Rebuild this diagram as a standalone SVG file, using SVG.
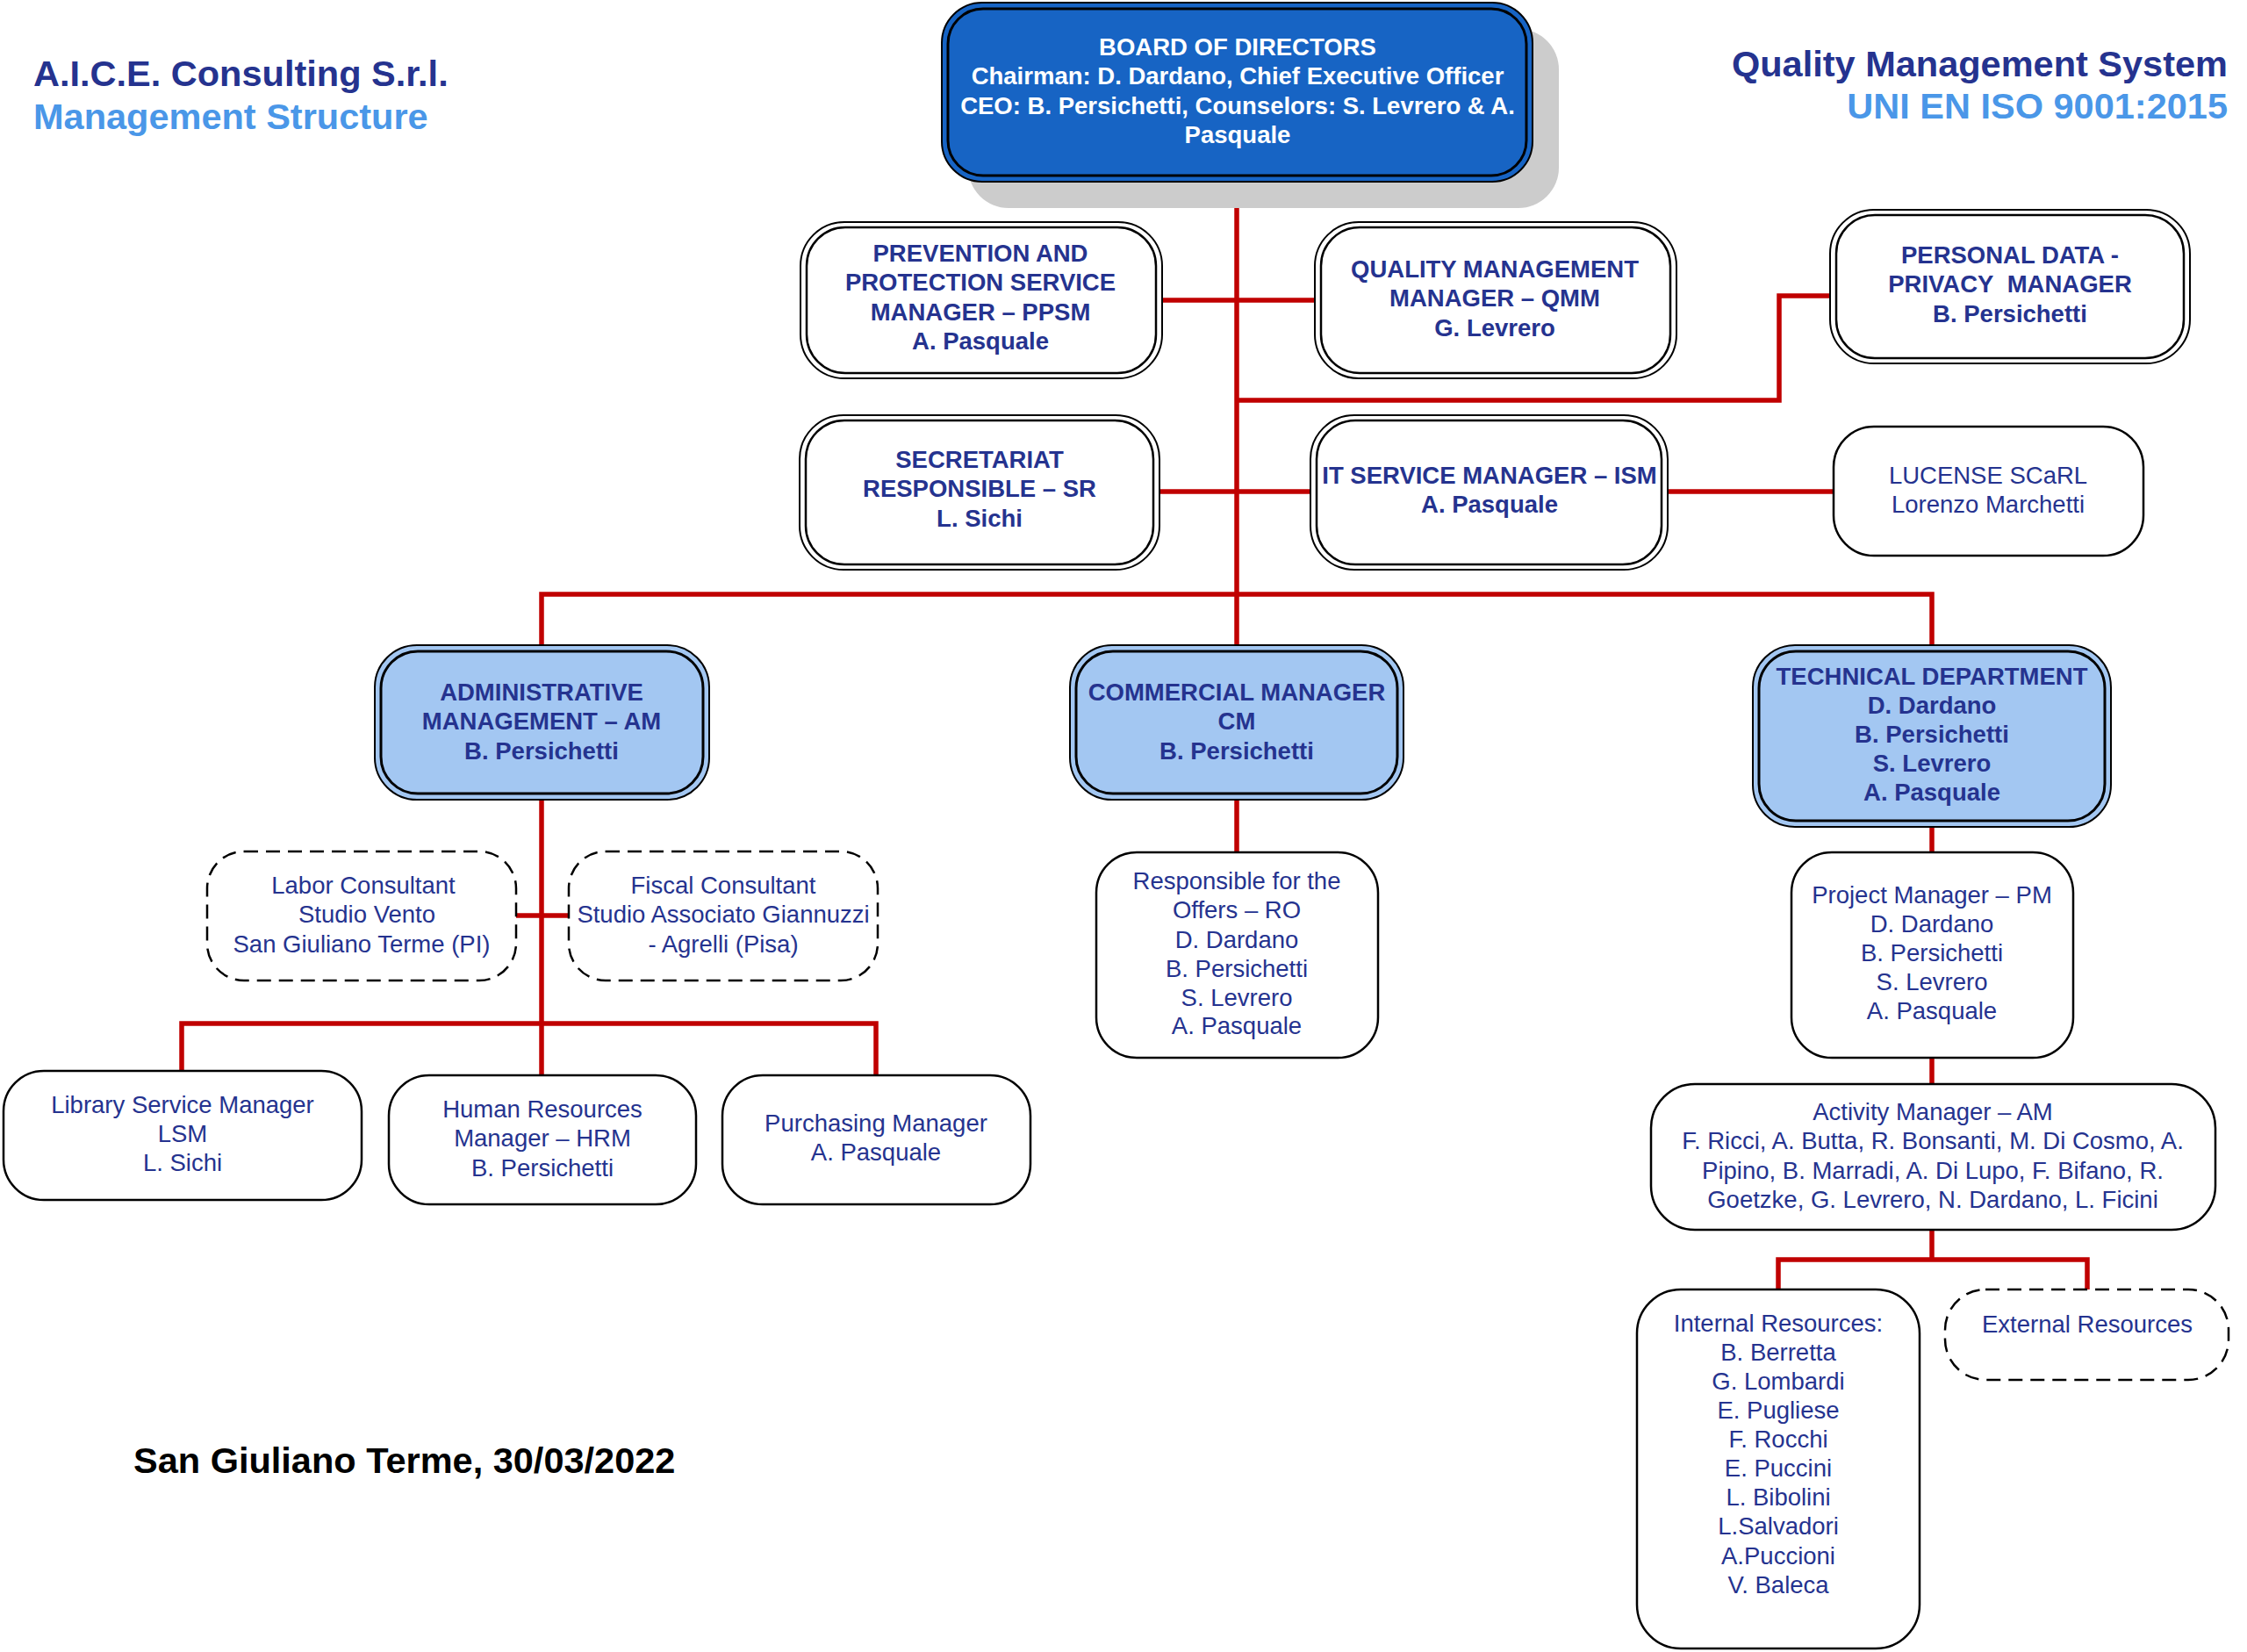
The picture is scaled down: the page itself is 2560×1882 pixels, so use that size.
<svg xmlns="http://www.w3.org/2000/svg" width="2560" height="1882" viewBox="0 0 2560 1882">
<style>
.t{font-family:"Liberation Sans",Arial,sans-serif;font-size:27.5px;fill:#25338F;text-anchor:middle}
.b{font-weight:bold}
.w{fill:#FFFFFF}
.ttl{font-family:"Liberation Sans",Arial,sans-serif;font-size:41.5px;font-weight:bold}
.navy{fill:#25338F}
.lb{fill:#4A97E8}
.o{fill:#FFFFFF;stroke:#000;stroke-width:2}
.i{fill:none;stroke:#000;stroke-width:2.5}
.s{fill:#FFFFFF;stroke:#000;stroke-width:2.5}
.d{fill:#FFFFFF;stroke:#000;stroke-width:2.5;stroke-dasharray:16 9}
.bo{fill:#A3C7F2;stroke:#000;stroke-width:2}
.bi{fill:#A3C7F2;stroke:#000;stroke-width:3}
.c{fill:none;stroke:#C00000;stroke-width:5.5}
</style>
<rect width="2560" height="1882" fill="#FFFFFF"/>
<g id="titles">
<text class="ttl navy" x="38" y="98">A.I.C.E. Consulting S.r.l.</text>
<text class="ttl lb" x="38" y="147">Management Structure</text>
<text class="ttl navy" x="2538" y="87" text-anchor="end">Quality Management System</text>
<text class="ttl lb" x="2538" y="135" text-anchor="end">UNI EN ISO 9001:2015</text>
<text class="ttl" x="152" y="1678" fill="#000">San Giuliano Terme, 30/03/2022</text>
</g>
<g id="connectors">
<line class="c" x1="1409" y1="207" x2="1409" y2="736"/>
<line class="c" x1="1324" y1="342" x2="1498" y2="342"/>
<path class="c" d="M1409 456 H2027 V337 H2085"/>
<line class="c" x1="1321" y1="560" x2="1493" y2="560"/>
<line class="c" x1="1900" y1="560" x2="2089" y2="560"/>
<path class="c" d="M617 736 V677 H2201 V736"/>
<line class="c" x1="617" y1="911" x2="617" y2="1226"/>
<line class="c" x1="588" y1="1043" x2="648" y2="1043"/>
<path class="c" d="M207 1220 V1166 H998 V1224"/>
<line class="c" x1="1409" y1="911" x2="1409" y2="971"/>
<line class="c" x1="2201" y1="942" x2="2201" y2="971"/>
<line class="c" x1="2201" y1="1205" x2="2201" y2="1235"/>
<path class="c" d="M2201 1401 V1435"/>
<path class="c" d="M2026 1469 V1435 H2378 V1469"/>
</g>
<g id="board">
<rect x="1103" y="33" width="673" height="204" rx="46" fill="#CCCCCC"/>
<rect x="1073" y="3" width="673" height="204" rx="46" fill="#1764C4" stroke="#000" stroke-width="2"/>
<rect x="1080" y="10" width="659" height="190" rx="40" fill="none" stroke="#000" stroke-width="3"/>
<text class="t b w" x="1410" y="63">BOARD OF DIRECTORS</text>
<text class="t b w" x="1410" y="96">Chairman: D. Dardano, Chief Executive Officer</text>
<text class="t b w" x="1410" y="130">CEO: B. Persichetti, Counselors: S. Levrero &amp; A.</text>
<text class="t b w" x="1410" y="163">Pasquale</text>
</g>
<g id="ppsm">
<rect class="o" x="912" y="253" width="412" height="178" rx="50"/>
<rect class="i" x="919" y="259" width="398" height="166" rx="44"/>
<text class="t b" x="1117" y="298">PREVENTION AND</text>
<text class="t b" x="1117" y="331">PROTECTION SERVICE</text>
<text class="t b" x="1117" y="365">MANAGER – PPSM</text>
<text class="t b" x="1117" y="398">A. Pasquale</text>
</g>
<g id="qmm">
<rect class="o" x="1498" y="253" width="412" height="178" rx="50"/>
<rect class="i" x="1505" y="259" width="398" height="166" rx="44"/>
<text class="t b" x="1703" y="316">QUALITY MANAGEMENT</text>
<text class="t b" x="1703" y="349">MANAGER – QMM</text>
<text class="t b" x="1703" y="383">G. Levrero</text>
</g>
<g id="privacy">
<rect class="o" x="2085" y="239" width="410" height="175" rx="50"/>
<rect class="i" x="2092" y="245" width="396" height="163" rx="44"/>
<text class="t b" x="2290" y="300">PERSONAL DATA -</text>
<text class="t b" x="2290" y="333">PRIVACY&#160; MANAGER</text>
<text class="t b" x="2290" y="367">B. Persichetti</text>
</g>
<g id="sr">
<rect class="o" x="911" y="473" width="410" height="176" rx="50"/>
<rect class="i" x="918" y="479" width="396" height="164" rx="44"/>
<text class="t b" x="1116" y="533">SECRETARIAT</text>
<text class="t b" x="1116" y="566">RESPONSIBLE – SR</text>
<text class="t b" x="1116" y="600">L. Sichi</text>
</g>
<g id="ism">
<rect class="o" x="1493" y="473" width="407" height="176" rx="50"/>
<rect class="i" x="1500" y="479" width="393" height="164" rx="44"/>
<text class="t b" x="1697" y="551">IT SERVICE MANAGER – ISM</text>
<text class="t b" x="1697" y="584">A. Pasquale</text>
</g>
<g id="lucense">
<rect class="s" x="2089" y="486" width="353" height="147" rx="46"/>
<text class="t" x="2265" y="551">LUCENSE SCaRL</text>
<text class="t" x="2265" y="584">Lorenzo Marchetti</text>
</g>
<g id="admin">
<rect class="bo" x="427" y="735" width="381" height="176" rx="48"/>
<rect class="bi" x="434" y="742" width="367" height="162" rx="42"/>
<text class="t b" x="617" y="798">ADMINISTRATIVE</text>
<text class="t b" x="617" y="831">MANAGEMENT – AM</text>
<text class="t b" x="617" y="865">B. Persichetti</text>
</g>
<g id="commercial">
<rect class="bo" x="1219" y="735" width="380" height="176" rx="48"/>
<rect class="bi" x="1226" y="742" width="366" height="162" rx="42"/>
<text class="t b" x="1409" y="798">COMMERCIAL MANAGER</text>
<text class="t b" x="1409" y="831">CM</text>
<text class="t b" x="1409" y="865">B. Persichetti</text>
</g>
<g id="technical">
<rect class="bo" x="1997" y="735" width="408" height="207" rx="48"/>
<rect class="bi" x="2004" y="742" width="394" height="193" rx="42"/>
<text class="t b" x="2201" y="780">TECHNICAL DEPARTMENT</text>
<text class="t b" x="2201" y="813">D. Dardano</text>
<text class="t b" x="2201" y="846">B. Persichetti</text>
<text class="t b" x="2201" y="879">S. Levrero</text>
<text class="t b" x="2201" y="912">A. Pasquale</text>
</g>
<g id="labor">
<rect class="d" x="236" y="970" width="352" height="147" rx="42"/>
<text class="t" x="414" y="1018">Labor Consultant</text>
<text class="t" x="418" y="1051">Studio Vento</text>
<text class="t" x="412" y="1085">San Giuliano Terme (PI)</text>
</g>
<g id="fiscal">
<rect class="d" x="648" y="970" width="352" height="147" rx="42"/>
<text class="t" x="824" y="1018">Fiscal Consultant</text>
<text class="t" x="824" y="1051">Studio Associato Giannuzzi</text>
<text class="t" x="824" y="1085">- Agrelli (Pisa)</text>
</g>
<g id="lsm">
<rect class="s" x="4" y="1220" width="408" height="147" rx="46"/>
<text class="t" x="208" y="1268">Library Service Manager</text>
<text class="t" x="208" y="1301">LSM</text>
<text class="t" x="208" y="1334">L. Sichi</text>
</g>
<g id="hrm">
<rect class="s" x="443" y="1225" width="350" height="147" rx="46"/>
<text class="t" x="618" y="1273">Human Resources</text>
<text class="t" x="618" y="1306">Manager – HRM</text>
<text class="t" x="618" y="1340">B. Persichetti</text>
</g>
<g id="purchasing">
<rect class="s" x="823" y="1225" width="351" height="147" rx="46"/>
<text class="t" x="998" y="1289">Purchasing Manager</text>
<text class="t" x="998" y="1322">A. Pasquale</text>
</g>
<g id="ro">
<rect class="s" x="1249" y="971" width="321" height="234" rx="46"/>
<text class="t" x="1409" y="1013">Responsible for the</text>
<text class="t" x="1409" y="1046">Offers – RO</text>
<text class="t" x="1409" y="1080">D. Dardano</text>
<text class="t" x="1409" y="1113">B. Persichetti</text>
<text class="t" x="1409" y="1146">S. Levrero</text>
<text class="t" x="1409" y="1178">A. Pasquale</text>
</g>
<g id="pm">
<rect class="s" x="2041" y="971" width="321" height="234" rx="46"/>
<text class="t" x="2201" y="1029">Project Manager – PM</text>
<text class="t" x="2201" y="1062">D. Dardano</text>
<text class="t" x="2201" y="1095">B. Persichetti</text>
<text class="t" x="2201" y="1128">S. Levrero</text>
<text class="t" x="2201" y="1161">A. Pasquale</text>
</g>
<g id="activity">
<rect class="s" x="1881" y="1235" width="643" height="166" rx="50"/>
<text class="t" x="2202" y="1276">Activity Manager – AM</text>
<text class="t" x="2202" y="1309">F. Ricci, A. Butta, R. Bonsanti, M. Di Cosmo, A.</text>
<text class="t" x="2202" y="1343">Pipino, B. Marradi, A. Di Lupo, F. Bifano, R.</text>
<text class="t" x="2202" y="1376">Goetzke, G. Levrero, N. Dardano, L. Ficini</text>
</g>
<g id="internal">
<rect class="s" x="1865" y="1469" width="322" height="409" rx="50"/>
<text class="t" x="2026" y="1517">Internal Resources:</text>
<text class="t" x="2026" y="1550">B. Berretta</text>
<text class="t" x="2026" y="1583">G. Lombardi</text>
<text class="t" x="2026" y="1616">E. Pugliese</text>
<text class="t" x="2026" y="1649">F. Rocchi</text>
<text class="t" x="2026" y="1682">E. Puccini</text>
<text class="t" x="2026" y="1715">L. Bibolini</text>
<text class="t" x="2026" y="1748">L.Salvadori</text>
<text class="t" x="2026" y="1782">A.Puccioni</text>
<text class="t" x="2026" y="1815">V. Baleca</text>
</g>
<g id="external">
<rect class="d" x="2216" y="1469" width="323" height="103" rx="46"/>
<text class="t" x="2378" y="1518">External Resources</text>
</g>
</svg>
